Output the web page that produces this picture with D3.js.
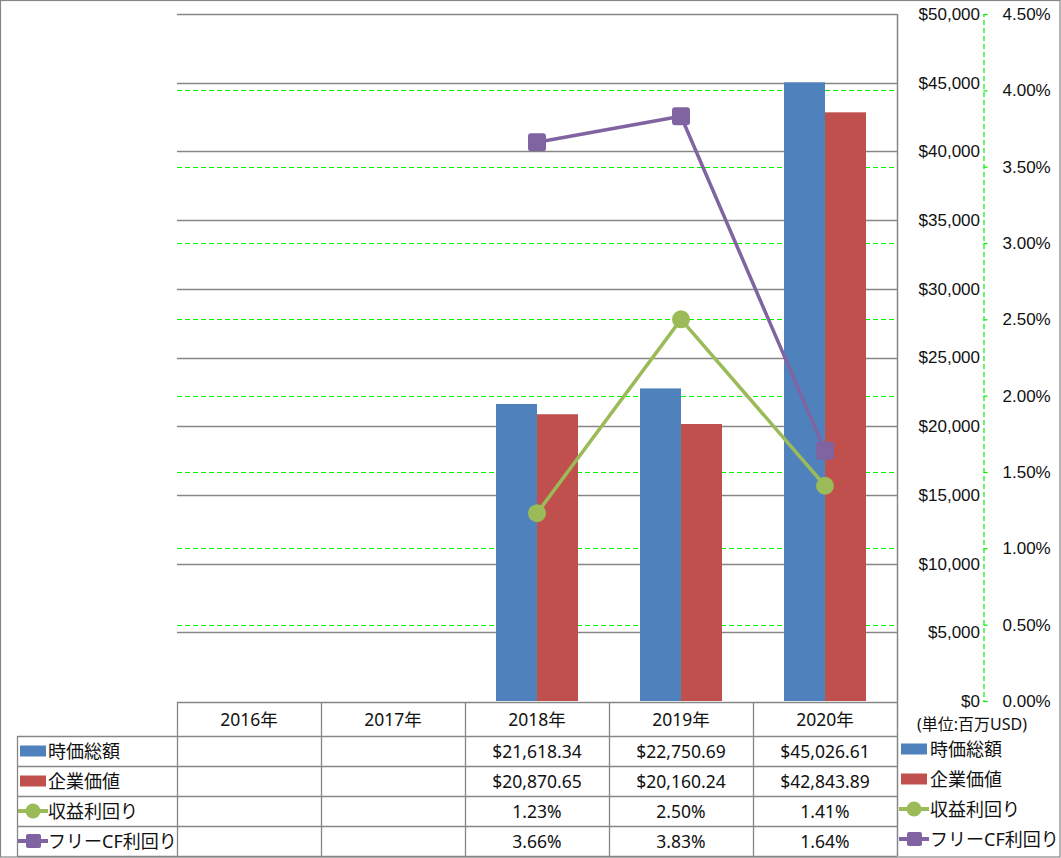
<!DOCTYPE html>
<html><head><meta charset="utf-8">
<script src="https://cdn.jsdelivr.net/npm/d3@7"></script>
<style>
body{margin:0;background:#fff;}
svg{display:block;font-family:"Noto Sans","Noto Sans CJK JP",sans-serif;}
</style></head>
<body><svg id="c" width="1061" height="858"></svg>
<script>
const years = ["2016年","2017年","2018年","2019年","2020年"];
const marketCap = [null,null,21618.34,22750.69,45026.61];
const enterpriseValue = [null,null,20870.65,20160.24,42843.89];
const earningsYield = [null,null,1.23,2.50,1.41];
const fcfYield = [null,null,3.66,3.83,1.64];
const seriesNames = ["時価総額","企業価値","収益利回り","フリーCF利回り"];
const usdTicks = [0,5000,10000,15000,20000,25000,30000,35000,40000,45000,50000];
const pctTicks = [0,0.5,1,1.5,2,2.5,3,3.5,4,4.5];
const unitLabel = "(単位:百万USD)";

const colors = {blue:"#4F81BD", red:"#C0504D", green:"#9BBB59", purple:"#8064A2"};
const svg = d3.select("#c");
const L=177,R=897,T=14,B=701;
const x = d3.scaleBand().domain(years).range([L,R]).padding(0);
const xs = d3.scaleBand().domain([0,1]).range([0,x.bandwidth()]).paddingInner(0).paddingOuter(0.756);
const yL = d3.scaleLinear().domain([0,50000]).range([B,T]);
const yR = d3.scaleLinear().domain([0,4.5]).range([B,T]);

svg.append("rect").attr("x",0.5).attr("y",0.5).attr("width",1059.5).attr("height",856.5)
  .attr("fill","none").attr("stroke","#868686").attr("stroke-width",1.2);

svg.append("g").selectAll("line").data(pctTicks.filter(d=>d>0)).join("line")
  .attr("x1",L).attr("x2",R).attr("y1",d=>Math.round(yR(d))+0.5).attr("y2",d=>Math.round(yR(d))+0.5)
  .attr("stroke","#00f000").attr("stroke-width",1.2).attr("stroke-dasharray","5,3");
svg.append("g").selectAll("line").data(usdTicks.filter(d=>d>0)).join("line")
  .attr("x1",L).attr("x2",R).attr("y1",d=>Math.round(yL(d))+0.5).attr("y2",d=>Math.round(yL(d))+0.5)
  .attr("stroke","#868686").attr("stroke-width",1.5);

const barData = [];
years.forEach((yr,i)=>{
  if(marketCap[i]!=null) barData.push({yr,k:0,v:marketCap[i],c:colors.blue});
  if(enterpriseValue[i]!=null) barData.push({yr,k:1,v:enterpriseValue[i],c:colors.red});
});
svg.append("g").selectAll("rect").data(barData).join("rect")
  .attr("x",d=>x(d.yr)+xs(d.k)).attr("width",xs.bandwidth())
  .attr("y",d=>yL(d.v)).attr("height",d=>B-yL(d.v)).attr("fill",d=>d.c);

const cx = yr => x(yr)+x.bandwidth()/2;
function lineSeries(vals,color){
  const pts = years.map((yr,i)=>({yr,v:vals[i]})).filter(d=>d.v!=null);
  svg.append("path").datum(pts)
    .attr("d",d3.line().x(d=>cx(d.yr)).y(d=>yR(d.v)))
    .attr("fill","none").attr("stroke",color).attr("stroke-width",3.5).attr("stroke-linejoin","round");
  return pts;
}
const ptsG = lineSeries(earningsYield,colors.green);
const ptsP = lineSeries(fcfYield,colors.purple);
svg.append("g").selectAll("circle").data(ptsG).join("circle")
  .attr("cx",d=>cx(d.yr)).attr("cy",d=>yR(d.v)).attr("r",9).attr("fill",colors.green);
svg.append("g").selectAll("rect").data(ptsP).join("rect")
  .attr("x",d=>cx(d.yr)-9).attr("y",d=>yR(d.v)-9).attr("width",18).attr("height",18)
  .attr("rx",3).attr("fill",colors.purple);

svg.append("line").attr("x1",R+0.5).attr("x2",R+0.5).attr("y1",T).attr("y2",856)
  .attr("stroke","#868686").attr("stroke-width",1.5);

const axL = svg.append("g").attr("transform",`translate(983,0)`)
  .call(d3.axisLeft(yL).tickValues(usdTicks).tickSize(0).tickPadding(3).tickFormat(d=>"$"+d3.format(",")(d)));
axL.select(".domain").remove();
axL.selectAll("text").attr("font-size",17).attr("fill","#111");

const axR = svg.append("g").attr("transform",`translate(983.5,0)`)
  .call(d3.axisRight(yR).tickValues(pctTicks).tickSize(4).tickPadding(15).tickFormat(d=>d3.format(".2%")(d/100)));
axR.select(".domain").attr("stroke","#00f000").attr("stroke-dasharray","5,3").attr("stroke-width",1.2);
axR.selectAll(".tick line").attr("stroke","#00f000").attr("stroke-width",1.2);
axR.selectAll("text").attr("font-size",17).attr("fill","#111");

svg.append("text").attr("x",972).attr("y",724).attr("text-anchor","middle").attr("dominant-baseline","central")
  .attr("font-size",16).attr("fill","#111").text(unitLabel);

const rowY = [702,736,766,796,826,856];
const gline = (x1,y1,x2,y2)=>svg.append("line").attr("x1",x1).attr("y1",y1).attr("x2",x2).attr("y2",y2)
  .attr("stroke","#868686").attr("stroke-width",1.3);
gline(L,rowY[0]+0.5,R,rowY[0]+0.5);
for(let i=1;i<rowY.length;i++) gline(17,rowY[i]+0.5,R,rowY[i]+0.5);
years.forEach(yr=>gline(x(yr)+0.5,rowY[0],x(yr)+0.5,856));
gline(17.5,rowY[1],17.5,856);

svg.append("g").selectAll("text").data(years).join("text")
  .attr("x",d=>cx(d)).attr("y",(rowY[0]+rowY[1])/2).attr("text-anchor","middle").attr("dominant-baseline","central")
  .attr("font-size",17.5).attr("fill","#111").text(d=>d);

const fmtUsd = v=>v==null?"":"$"+d3.format(",.2f")(v);
const fmtPct = v=>v==null?"":d3.format(".2f")(v)+"%";
const rows = [
  {vals:marketCap,fmt:fmtUsd,type:"bar",color:colors.blue},
  {vals:enterpriseValue,fmt:fmtUsd,type:"bar",color:colors.red},
  {vals:earningsYield,fmt:fmtPct,type:"circle",color:colors.green},
  {vals:fcfYield,fmt:fmtPct,type:"square",color:colors.purple}
];
function legendKey(g,x0,yc,r){
  if(r.type==="bar"){
    g.append("rect").attr("x",x0).attr("y",yc-5.5).attr("width",26).attr("height",11).attr("fill",r.color);
  } else {
    g.append("line").attr("x1",x0-2).attr("x2",x0+28).attr("y1",yc).attr("y2",yc).attr("stroke",r.color).attr("stroke-width",4);
    if(r.type==="circle") g.append("circle").attr("cx",x0+13).attr("cy",yc).attr("r",7.5).attr("fill",r.color);
    else g.append("rect").attr("x",x0+6).attr("y",yc-7).attr("width",15).attr("height",14).attr("rx",2).attr("fill",r.color);
  }
}
rows.forEach((r,i)=>{
  const yc = (rowY[i+1]+rowY[i+2])/2;
  const g = svg.append("g");
  legendKey(g,20,yc,r);
  g.append("text").attr("x",48).attr("y",yc).attr("dominant-baseline","central").attr("font-size",18).attr("fill","#111").text(seriesNames[i]);
  g.selectAll("text.v").data(years).join("text").attr("class","v")
    .attr("x",d=>cx(d)).attr("y",yc).attr("text-anchor","middle").attr("dominant-baseline","central")
    .attr("font-size",17.5).attr("fill","#111").text((d,j)=>r.fmt(r.vals[j]));
  const g2 = svg.append("g");
  legendKey(g2,901,yc-2,r);
  g2.append("text").attr("x",930).attr("y",yc-2).attr("dominant-baseline","central").attr("font-size",18).attr("fill","#111").text(seriesNames[i]);
});
</script></body></html>
